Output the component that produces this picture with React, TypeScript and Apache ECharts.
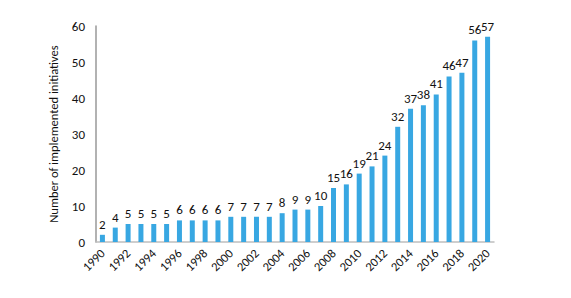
import React, { useEffect, useRef } from "react";
import * as echarts from "echarts";

const years = ["1990","1991","1992","1993","1994","1995","1996","1997","1998","1999","2000","2001","2002","2003","2004","2005","2006","2007","2008","2009","2010","2011","2012","2013","2014","2015","2016","2017","2018","2019","2020"];
const values = [2,4,5,5,5,5,6,6,6,6,7,7,7,7,8,9,9,10,15,16,19,21,24,32,37,38,41,46,47,56,57];
const yTicks = [0, 10, 20, 30, 40, 50, 60];

export default function App() {
  const ref = useRef<HTMLDivElement>(null);
  useEffect(() => {
    if (!ref.current) return;
    const chart = echarts.init(ref.current, null, { renderer: "svg" });
    const font = "Carlito, 'Open Sans', 'Liberation Sans', sans-serif";
    chart.setOption({
      animation: false,
      grid: { left: 96, right: 77, top: 26, bottom: 56, containLabel: false },
      xAxis: {
        type: "category",
        data: years,
        axisLine: { lineStyle: { color: "#bfbfbf", width: 1.5 } },
        axisTick: { show: false },
        axisLabel: {
          interval: 1,
          rotate: 45,
          fontSize: 12.5,
          color: "#111",
          fontFamily: font,
          margin: 9,
        },
      },
      yAxis: {
        type: "value",
        min: yTicks[0],
        max: yTicks[yTicks.length - 1],
        interval: 10,
        name: "Number of implemented initiatives",
        nameLocation: "middle",
        nameGap: 36,
        nameTextStyle: { fontSize: 12.5, color: "#111", fontFamily: font },
        axisLine: { show: true, lineStyle: { color: "#999", width: 1.5 } },
        axisTick: { show: false },
        splitLine: { show: false },
        axisLabel: { fontSize: 13, color: "#111", fontFamily: font, margin: 11 },
      },
      series: [
        {
          type: "bar",
          data: values,
          barWidth: 5,
          itemStyle: { color: "#38a7e2" },
          label: {
            show: true,
            position: "top",
            distance: 4,
            fontSize: 13,
            color: "#111",
            fontFamily: font,
          },
        },
      ],
    });
    return () => chart.dispose();
  }, []);
  return <div ref={ref} style={{ width: 571, height: 298, position: "absolute", left: 0, top: 0 }} />;
}
